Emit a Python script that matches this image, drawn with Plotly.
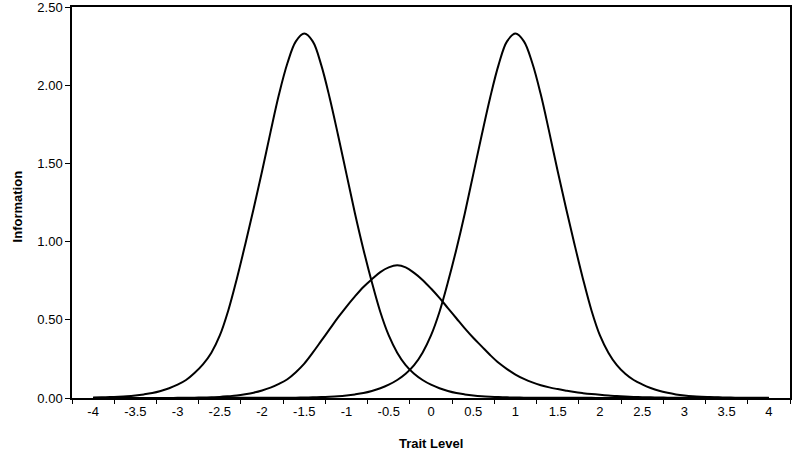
import plotly.graph_objects as go

# trait levels, -4.0 .. 4.0 in steps of 0.1
theta = [round(-4.0 + 0.1 * i, 1) for i in range(81)]

# item information, one value per theta
info_a = [0.003, 0.004, 0.006, 0.008, 0.011, 0.016, 0.023, 0.032, 0.045, 0.062,
          0.085, 0.115, 0.16, 0.215, 0.29, 0.40, 0.56, 0.76, 0.98, 1.21,
          1.45, 1.70, 1.94, 2.14, 2.28, 2.33, 2.28, 2.13, 1.92, 1.68,
          1.43, 1.18, 0.95, 0.74, 0.55, 0.40, 0.29, 0.21, 0.155, 0.115,
          0.085, 0.062, 0.045, 0.032, 0.023, 0.016, 0.011, 0.008, 0.006, 0.004,
          0.003, 0.002, 0.002, 0.001, 0.001, 0.001, 0.001, 0.001, 0.001, 0.001,
          0, 0, 0, 0, 0, 0, 0, 0, 0, 0,
          0, 0, 0, 0, 0, 0, 0, 0, 0, 0,
          0]

info_b = [0, 0, 0, 0, 0, 0, 0, 0, 0, 0,
          0, 0, 0, 0, 0, 0.001, 0.001, 0.001, 0.001, 0.001,
          0.001, 0.001, 0.001, 0.002, 0.002, 0.003, 0.004, 0.006, 0.008, 0.011,
          0.016, 0.023, 0.032, 0.045, 0.062, 0.085, 0.115, 0.155, 0.21, 0.29,
          0.40, 0.55, 0.74, 0.95, 1.18, 1.43, 1.68, 1.92, 2.13, 2.28,
          2.33, 2.28, 2.14, 1.94, 1.70, 1.45, 1.21, 0.98, 0.76, 0.56,
          0.40, 0.29, 0.21, 0.155, 0.115, 0.087, 0.064, 0.046, 0.033, 0.023,
          0.016, 0.011, 0.008, 0.006, 0.004, 0.003, 0.002, 0.002, 0.001, 0.001,
          0.001]

info_c = [0, 0, 0, 0, 0, 0, 0, 0, 0, 0,
          0.001, 0.001, 0.002, 0.003, 0.005, 0.007, 0.011, 0.016, 0.024, 0.034,
          0.048, 0.066, 0.09, 0.12, 0.165, 0.22, 0.29, 0.365, 0.44, 0.515,
          0.585, 0.65, 0.71, 0.76, 0.805, 0.835, 0.848, 0.835, 0.80, 0.755,
          0.70, 0.64, 0.575, 0.51, 0.445, 0.385, 0.33, 0.275, 0.225, 0.185,
          0.15, 0.122, 0.10, 0.082, 0.068, 0.057, 0.047, 0.038, 0.031, 0.025,
          0.02, 0.016, 0.012, 0.009, 0.007, 0.005, 0.004, 0.003, 0.002, 0.002,
          0.001, 0.001, 0.001, 0.001, 0.001, 0, 0, 0, 0, 0,
          0]

x_ticks = [-4, -3.5, -3, -2.5, -2, -1.5, -1, -0.5, 0, 0.5, 1, 1.5, 2, 2.5, 3, 3.5, 4]
x_labels = ['-4', '-3.5', '-3', '-2.5', '-2', '-1.5', '-1', '-0.5', '0',
            '0.5', '1', '1.5', '2', '2.5', '3', '3.5', '4']
y_ticks = [0, 0.5, 1.0, 1.5, 2.0, 2.5]

FONT = 'Liberation Sans, Arial, sans-serif'

fig = go.Figure()
for vals in (info_a, info_b, info_c):
    fig.add_trace(go.Scatter(x=theta, y=vals, mode='lines',
                             line=dict(color='black', width=2, shape='spline', smoothing=1),
                             showlegend=False, hoverinfo='skip'))

fig.update_layout(
    width=800, height=457,
    margin=dict(l=72, r=10, t=7, b=59),
    paper_bgcolor='white', plot_bgcolor='white',
    font=dict(family=FONT, size=13, color='black'),
)
fig.update_xaxes(
    range=[-4.25, 4.25], tickvals=x_ticks, ticktext=x_labels,
    ticks='outside', ticklen=1, tickcolor='rgba(0,0,0,0)',
    minor=dict(tick0=-4.25, dtick=0.5, ticks='outside', ticklen=4, tickcolor='black', showgrid=False),
    showgrid=False, zeroline=False, automargin=False,
    showline=True, linecolor='black', linewidth=1.5, mirror=True,
)
fig.update_yaxes(
    range=[0, 2.5], tickvals=y_ticks, tickformat='.2f',
    ticks='outside', ticklen=5, tickcolor='black', ticklabeloverflow='allow',
    showgrid=False, zeroline=False, automargin=False,
    showline=True, linecolor='black', linewidth=1.5, mirror=True,
)

# axis titles placed as in the reference
fig.add_annotation(text='<b>Trait Level</b>', xref='paper', yref='paper',
                   x=0.5, y=-45 / 391, yanchor='middle', showarrow=False,
                   font=dict(size=13))
fig.add_annotation(text='<b>Information</b>', xref='paper', yref='paper',
                   x=-55 / 718, y=0.49, xanchor='center', yanchor='middle',
                   textangle=-90, showarrow=False, font=dict(size=13))

# page has a default body margin; drop it so the figure sits at the window corner
fig.write_html('out.html', config={'displayModeBar': False},
               post_script="document.body.style.margin='0';")
